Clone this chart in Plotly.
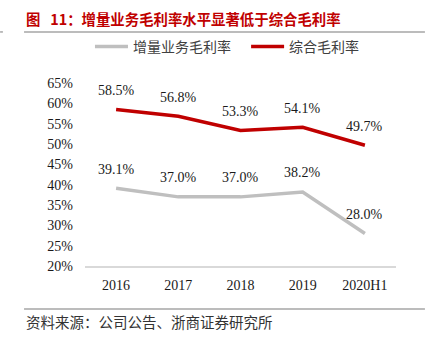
import plotly.graph_objects as go

categories = ["2016", "2017", "2018", "2019", "2020H1"]
incremental_margin = [39.1, 37.0, 37.0, 38.2, 28.0]
overall_margin = [58.5, 56.8, 53.3, 54.1, 49.7]
y_ticks = [20, 25, 30, 35, 40, 45, 50, 55, 60, 65]

GRAY = "#BFBFBF"
RED = "#C00000"
SERIF = "Liberation Serif, Times New Roman, serif"
CJK = "Noto Sans CJK SC, sans-serif"

fig = go.Figure()
fig.add_trace(go.Scatter(
    x=categories, y=incremental_margin, mode="lines", name="增量业务毛利率",
    line=dict(color=GRAY, width=3.5), legend="legend",
))
fig.add_trace(go.Scatter(
    x=categories, y=overall_margin, mode="lines", name="综合毛利率",
    line=dict(color=RED, width=3.5), legend="legend2",
))

# value labels above each point (category index used for x position)
for series in (incremental_margin, overall_margin):
    for i, v in enumerate(series):
        fig.add_annotation(
            x=i, y=v, text=f"{v:.1f}%", showarrow=False, yshift=19,
            font=dict(family=SERIF, size=14, color="#1a1a1a"),
        )

# header, rules and source note
fig.add_annotation(
    xref="paper", yref="paper", x=-0.196, y=1.355, xanchor="left", yanchor="middle",
    text="<b>图&nbsp;&nbsp;&nbsp;11：增量业务毛利率水平显著低于综合毛利率</b>", showarrow=False,
    font=dict(family=CJK, size=14.4, color=RED),
)
fig.add_shape(type="line", xref="paper", yref="paper", x0=-0.196, x1=1.093,
              y0=1.279, y1=1.279, line=dict(color="#A6A6A6", width=1.5))
fig.add_shape(type="line", xref="paper", yref="paper", x0=-0.273, x1=-0.264,
              y0=1.279, y1=1.279, line=dict(color="#A6A6A6", width=1.5))
fig.add_shape(type="line", xref="paper", yref="paper", x0=-0.196, x1=1.093,
              y0=-0.235, y1=-0.235, line=dict(color="#A6A6A6", width=1.5))
fig.add_annotation(
    xref="paper", yref="paper", x=-0.196, y=-0.306, xanchor="left", yanchor="middle",
    text="资料来源：公司公告、浙商证券研究所", showarrow=False,
    font=dict(family=CJK, size=14.5, color="#333333"),
)

legend_style = dict(
    orientation="h", y=1.197, xanchor="left", yanchor="middle",
    font=dict(family=CJK, size=14, color="#404040"),
    itemwidth=33, bgcolor="rgba(0,0,0,0)",
)

fig.update_layout(
    width=432, height=345,
    margin=dict(l=85, r=36, t=83, b=79),
    paper_bgcolor="white", plot_bgcolor="white",
    showlegend=True,
    legend=dict(x=0.016, **legend_style),
    legend2=dict(x=0.518, **legend_style),
    xaxis=dict(
        type="category", showgrid=False, showline=True, linecolor="#D9D9D9",
        linewidth=1.5, ticks="", ticklabelstandoff=5,
        tickfont=dict(family=SERIF, size=14, color="#1a1a1a"),
        range=[-0.5, 4.5],
    ),
    yaxis=dict(
        range=[20, 65], tickvals=y_ticks, ticktext=[f"{t}%" for t in y_ticks],
        showgrid=False, showline=False, zeroline=False, ticks="",
        ticklabelstandoff=11,
        tickfont=dict(family=SERIF, size=14, color="#1a1a1a"),
    ),
)

fig.write_html("out.html")
